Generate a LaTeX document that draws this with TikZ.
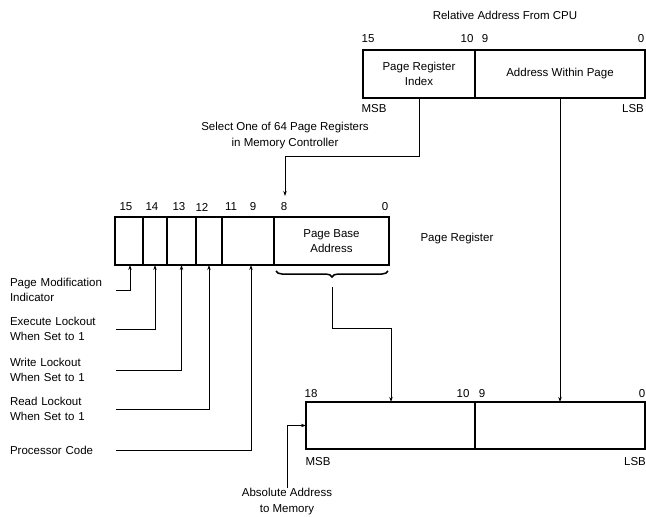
\documentclass[tikz,border=0pt]{standalone}
\usepackage{fontspec}
\setmainfont{Liberation Sans}
\usetikzlibrary{arrows.meta,decorations.pathreplacing}
\begin{document}
\begin{tikzpicture}[x=1pt,y=-1pt,
  every node/.style={font=\fontsize{11.5}{15.5}\selectfont, inner sep=0pt, outer sep=0pt},
  cell/.style={draw, line width=1.2pt, anchor=north west, align=center, minimum height=#1},
  cell/.default=48pt,
  num/.style={anchor=center},
  lbl/.style={align=center},
  side/.style={anchor=west, align=left, text width=96pt},
  arr/.style={line width=1pt, -{Stealth[length=5pt,width=3.4pt]}}]
\useasboundingbox (0,0) rectangle (646,517);

% Top register: relative address from CPU
\node[lbl] (rel) at (505,15) {Relative Address From CPU};
\node[cell, minimum width=112pt] (pri) at (363,50) {Page Register\\Index};
\node[cell, minimum width=170pt] (awp) at (475,50) {Address Within Page};
\node[num] (t15) at (368,39) {15};
\node[num] (t10) at (467,39) {10};
\node[num] (t9) at (485,39) {9};
\node[num] (t0) at (641,39) {0};
\node[num] (tmsb) at (374,109) {MSB};
\node[num] (tlsb) at (633,109) {LSB};

% Select label
\node[lbl] (sel) at (285,135.5) {Select One of 64 Page Registers\\in Memory Controller};

% Page register
\node[cell=48pt, minimum width=28pt] (c15) at (115,217) {};
\node[cell=48pt, minimum width=24pt] (c14) at (143,217) {};
\node[cell=48pt, minimum width=29pt] (c13) at (167,217) {};
\node[cell=48pt, minimum width=26pt] (c12) at (196,217) {};
\node[cell=48pt, minimum width=52pt] (c11) at (222,217) {};
\node[cell=48pt, minimum width=115pt] (pba) at (274,217) {Page Base\\Address};
\node[num] (m15) at (126,207) {15};
\node[num] (m14) at (152,207) {14};
\node[num] (m13) at (179,207) {13};
\node[num] (m12) at (202,207) {12};
\node[num] (m11) at (231,207) {11};
\node[num] (m9) at (253,207) {9};
\node[num] (m8) at (284,207) {8};
\node[num] (m0) at (385,207) {0};
\node[lbl] (preg) at (457,239) {Page Register};
\coordinate (c8) at (285,196);

% Lower register: absolute address
\node[cell=47pt, minimum width=169pt] (lowL) at (306,402) {};
\node[cell=47pt, minimum width=170pt] (lowR) at (475,402) {};
\node[num] (b18) at (311,394) {18};
\node[num] (b10) at (463,394) {10};
\node[num] (b9) at (482,394) {9};
\node[num] (b0) at (642,394) {0};
\node[num] (bmsb) at (318,462) {MSB};
\node[num] (blsb) at (635,462) {LSB};
\node[lbl] (abs) at (287,501.5) {Absolute Address\\to Memory};

% Side labels
\node[side] (lpmi) at (10,290) {Page Modification\\Indicator};
\node[side] (lexe) at (10,329) {Execute Lockout\\When Set to 1};
\node[side] (lwr) at (10,370) {Write Lockout\\When Set to 1};
\node[side] (lrd) at (10,409) {Read Lockout\\When Set to 1};
\node[side] (lpc) at (10,450) {Processor Code};

% Connectors
\draw[arr] (pri.south) -- ++(0,58) -| (c8);
\draw[arr] (awp.south) -- (awp.south |- lowR.north);

\draw[line width=1.5pt, decorate, decoration={brace, mirror, amplitude=6pt, aspect=0.5}] (276,271) -- (388,271);
\coordinate (bstem) at (332,287);
\coordinate (lowin) at (391,402);
\draw[arr] (bstem) -- (332,328) -| (lowin);

\draw[arr] (abs.north) |- (lowL.west);

\draw[arr] ([xshift=10pt]lpmi.east) -| ([xshift=1pt]c15.south);
\draw[arr] ([xshift=10pt]lexe.east) -| (c14.south);
\draw[arr] ([xshift=10pt]lwr.east) -| (c13.south);
\draw[arr] ([xshift=10pt]lrd.east) -| (c12.south);
\draw[arr] ([xshift=10pt]lpc.east |- lpc.west) -| ([xshift=3pt]c11.south);
\end{tikzpicture}
\end{document}
